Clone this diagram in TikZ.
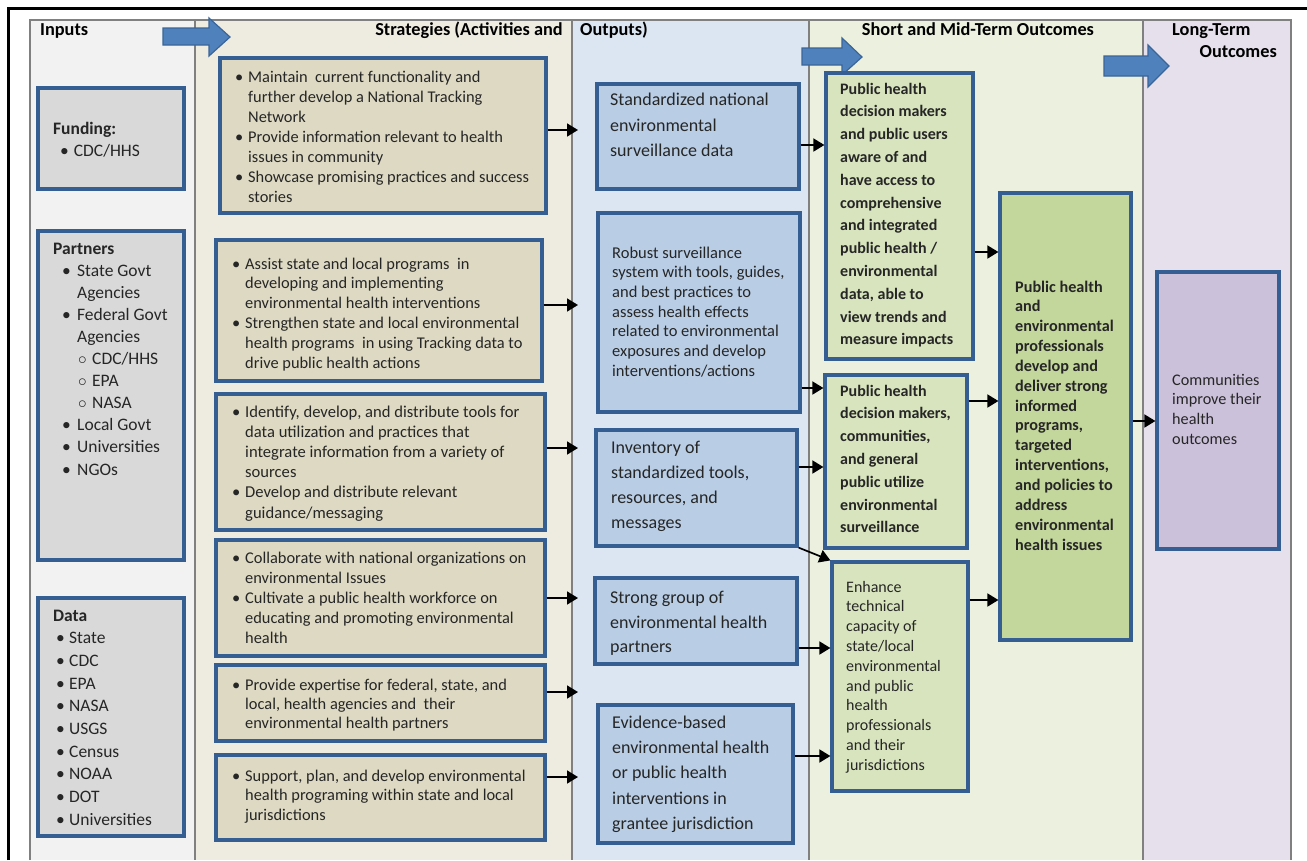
\documentclass[tikz,border=0pt]{standalone}
\usepackage{fontspec}
\setmainfont{Carlito}
\usetikzlibrary{arrows.meta}
\definecolor{colIn}{HTML}{F2F2F2}
\definecolor{colSt}{HTML}{EEECE1}
\definecolor{colOut}{HTML}{DCE6F2}
\definecolor{colSh}{HTML}{EBF1DE}
\definecolor{colLg}{HTML}{E5E0EC}
\definecolor{inF}{HTML}{D9D9D9}
\definecolor{stF}{HTML}{DDD9C3}
\definecolor{outF}{HTML}{B9CDE5}
\definecolor{shF}{HTML}{D7E4BD}
\definecolor{mtF}{HTML}{C3D69B}
\definecolor{lgF}{HTML}{CCC1DA}
\definecolor{bordc}{HTML}{355E92}
\definecolor{barrF}{HTML}{4F81BD}
\definecolor{barrD}{HTML}{3A6598}
\definecolor{colline}{HTML}{808080}
\definecolor{txtc}{HTML}{262626}
\newcommand\mylines[1]{\vtop{\halign{##\hfil\cr#1\crcr}}}
\newcommand\fS[2]{\fontsize{#1}{#2}\selectfont}
\newcommand\mybul{\hbox to 13pt{\textbullet\hfil}}
\newcommand\myind{\hskip13pt}
\newcommand\pbul{\hskip9pt\hbox to 15pt{\textbullet\hfil}}
\newcommand\pind{\hskip24pt}
\newcommand\psub{\hskip25pt\hbox to 14pt{$\circ$\hfil}}
\newcommand\dbul{\hskip3pt\hbox to 13pt{\textbullet\hfil}}
\begin{document}
\begin{tikzpicture}[x=1pt,y=-1pt,
  box/.style={draw=bordc, line width=3.2pt, inner sep=0pt},
  inbox/.style={box, fill=inF},
  stbox/.style={box, fill=stF},
  outbox/.style={box, fill=outF},
  shbox/.style={box, fill=shF},
  mtbox/.style={box, fill=mtF},
  lgbox/.style={box, fill=lgF},
  tx/.style={anchor=base west, inner sep=0pt, text=txtc},
  hd/.style={inner sep=0pt, text=black, font=\bfseries\fS{18.3}{21}},
  arr/.style={-{Triangle[length=11pt,width=13pt]}, line width=1.7pt, black},
  barrow/.style={fill=barrF, draw=barrD, line width=1.2pt},
  colsep/.style={draw=colline, line width=1.2pt}]
\useasboundingbox (0,0) rectangle (1307,860);
\fill[white] (0,0) rectangle (1307,860);
% columns
\fill[colIn] (30,20) rectangle (195,860);
\fill[colSt] (195,20) rectangle (572,860);
\fill[colOut] (572,20) rectangle (809,860);
\fill[colSh] (809,20) rectangle (1143,860);
\fill[colLg] (1143,20) rectangle (1291,860);
\draw[colsep] (30,860) -- (30,20) -- (1291,20) -- (1291,860);
\draw[colsep] (195,20) -- (195,860);
\draw[colsep] (572,20) -- (572,860);
\draw[colsep] (809,20) -- (809,860);
\draw[colsep] (1143,20) -- (1143,860);
\draw[line width=3pt, black] (8,860) -- (8,8) -- (1307,8);
% headers
\node[hd, anchor=base west] (hIn) at (40,35) {Inputs};
\node[hd, anchor=base east] (hSt) at (563,35) {Strategies (Activities and};
\node[hd, anchor=base west] (hOut) at (580,35) {Outputs)};
\node[hd, anchor=base] (hSh) at (978,35) {Short and Mid-Term Outcomes};
\node[hd, anchor=base west] (hLg) at (1172,35) {Long-Term};
\node[hd, anchor=base east] (hLg2) at (1277,57) {Outcomes};
% block arrows
\draw[barrow] (163,28) -- (209,28) -- (209,18) -- (230,37) -- (209,56) -- (209,45) -- (163,45) -- cycle;
\draw[barrow] (802,48) -- (842,48) -- (842,38) -- (862,57) -- (842,75) -- (842,65) -- (802,65) -- cycle;
\draw[barrow] (1104,56) -- (1148,56) -- (1148,45) -- (1169,66) -- (1148,87) -- (1148,76) -- (1104,76) -- cycle;
% input boxes
\node[inbox, minimum width=146pt, minimum height=101pt] (fund) at (111,138.5) {};
\node[inbox, minimum width=146pt, minimum height=329pt] (part) at (111,395.5) {};
\node[inbox, minimum width=146pt, minimum height=238pt] (data) at (111,717) {};
\node[tx] (fundt) at (53,134) {\fS{17.5}{22}\mylines{\textbf{Funding:}\cr
  \hskip7pt\textbullet\hskip5pt CDC/HHS\cr}};
\node[tx] (partt) at (53,254) {\fS{17.5}{22.1}\mylines{\textbf{Partners}\cr
  \pbul State Govt\cr \pind Agencies\cr \pbul Federal Govt\cr \pind Agencies\cr
  \psub CDC/HHS\cr \psub EPA\cr \psub NASA\cr \pbul Local Govt\cr
  \pbul Universities\cr \pbul NGOs\cr}};
\node[tx] (datat) at (53,621) {\fS{17.5}{22.7}\mylines{\textbf{Data}\cr
  \dbul State\cr \dbul CDC\cr \dbul EPA\cr \dbul NASA\cr \dbul USGS\cr
  \dbul Census\cr \dbul NOAA\cr \dbul DOT\cr \dbul Universities\cr}};
% strategy boxes
\node[stbox, minimum width=326pt, minimum height=155pt] (s1) at (383,135.5) {};
\node[stbox, minimum width=326pt, minimum height=141pt] (s2) at (379,310.5) {};
\node[stbox, minimum width=329pt, minimum height=136pt] (s3) at (380.5,462) {};
\node[stbox, minimum width=329pt, minimum height=116pt] (s4) at (380.5,598) {};
\node[stbox, minimum width=329pt, minimum height=76pt] (s5) at (380.5,703) {};
\node[stbox, minimum width=329pt, minimum height=85pt] (s6) at (380.5,797.5) {};
\node[tx] (s1t) at (235,82) {\fS{16.4}{20}\mylines{%
  \mybul Maintain~ current functionality and\cr
  \myind further develop a National Tracking\cr
  \myind Network\cr
  \mybul Provide information relevant to health\cr
  \myind issues in community\cr
  \mybul Showcase promising practices and success\cr
  \myind stories\cr}};
\node[tx] (s2t) at (232,269) {\fS{16.4}{19.8}\mylines{%
  \mybul Assist state and local programs~ in\cr
  \myind developing and implementing\cr
  \myind environmental health interventions\cr
  \mybul Strengthen state and local environmental\cr
  \myind health programs~ in using Tracking data to\cr
  \myind drive public health actions\cr}};
\node[tx] (s3t) at (232,417) {\fS{16.6}{20.2}\mylines{%
  \mybul Identify, develop, and distribute tools for\cr
  \myind data utilization and practices that\cr
  \myind integrate information from a variety of\cr
  \myind sources\cr
  \mybul Develop and distribute relevant\cr
  \myind guidance/messaging\cr}};
\node[tx] (s4t) at (232,563) {\fS{16.4}{20}\mylines{%
  \mybul Collaborate with national organizations on\cr
  \myind environmental Issues\cr
  \mybul Cultivate a public health workforce on\cr
  \myind educating and promoting environmental\cr
  \myind health\cr}};
\node[tx] (s5t) at (232,690) {\fS{16.4}{19}\mylines{%
  \mybul Provide expertise for federal, state, and\cr
  \myind local, health agencies and~ their\cr
  \myind environmental health partners\cr}};
\node[tx] (s6t) at (232,781) {\fS{16.4}{19.5}\mylines{%
  \mybul Support, plan, and develop environmental\cr
  \myind health programing within state and local\cr
  \myind jurisdictions\cr}};
% output boxes
\node[outbox, minimum width=202pt, minimum height=105pt] (o1) at (698,136.5) {};
\node[outbox, minimum width=202pt, minimum height=199pt] (o2) at (699,312.5) {};
\node[outbox, minimum width=201pt, minimum height=116pt] (o3) at (696.5,488) {};
\node[outbox, minimum width=202pt, minimum height=86pt] (o4) at (696,621) {};
\node[outbox, minimum width=195pt, minimum height=138pt] (o5) at (695.5,774) {};
\node[tx] (o1t) at (610,105.5) {\fS{18}{25.5}\mylines{Standardized national\cr
  environmental\cr surveillance data\cr}};
\node[tx] (o2t) at (612,258) {\fS{16.5}{19.7}\mylines{Robust surveillance\cr
  system with tools, guides,\cr and best practices to\cr assess health effects\cr
  related to environmental\cr exposures and develop\cr interventions/actions\cr}};
\node[tx] (o3t) at (611,453.5) {\fS{18}{25}\mylines{Inventory of\cr
  standardized tools,\cr resources, and\cr messages\cr}};
\node[tx] (o4t) at (610,603.5) {\fS{18}{24.5}\mylines{Strong group of\cr
  environmental health\cr partners\cr}};
\node[tx] (o5t) at (612,728.5) {\fS{18}{25.2}\mylines{Evidence-based\cr
  environmental health\cr or public health\cr interventions in\cr
  grantee jurisdiction\cr}};
% outcome boxes
\node[shbox, minimum width=147pt, minimum height=286pt] (st1) at (899.5,216) {};
\node[shbox, minimum width=142pt, minimum height=173pt] (st2) at (896,461.5) {};
\node[shbox, minimum width=136pt, minimum height=229pt] (st3) at (900,676.5) {};
\node[mtbox, minimum width=131pt, minimum height=447pt] (mt) at (1065.5,416.5) {};
\node[lgbox, minimum width=122pt, minimum height=277pt] (lt) at (1218,410.5) {};
\node[tx] (st1t) at (840,94) {\bfseries\fS{16}{22.8}\mylines{Public health\cr
  decision makers\cr and public users\cr aware of and\cr have access to\cr
  comprehensive\cr and integrated\cr public health /\cr environmental\cr
  data, able to\cr view trends and\cr measure impacts\cr}};
\node[tx] (st2t) at (840,396) {\bfseries\fS{16}{22.83}\mylines{Public health\cr
  decision makers,\cr communities,\cr and general\cr public utilize\cr
  environmental\cr surveillance\cr}};
\node[tx] (st3t) at (846,592) {\fS{16}{19.8}\mylines{Enhance\cr technical\cr
  capacity of\cr state/local\cr environmental\cr and public\cr health\cr
  professionals\cr and their\cr jurisdictions\cr}};
\node[tx] (mtt) at (1015,292) {\bfseries\fS{16.2}{19.85}\mylines{Public health\cr
  and\cr environmental\cr professionals\cr develop and\cr deliver strong\cr
  informed\cr programs,\cr targeted\cr interventions,\cr and policies to\cr
  address\cr environmental\cr health issues\cr}};
\node[tx] (ltt) at (1172,385) {\fS{16.2}{19.7}\mylines{Communities\cr
  improve their\cr health\cr outcomes\cr}};
% connector end coordinates
\coordinate (e1) at (578,130);
\coordinate (e2) at (578,305);
\coordinate (e3) at (578,448);
\coordinate (e4) at (578,598);
\coordinate (e5) at (578,692);
\coordinate (e6) at (578,777);
\coordinate (y1) at (0,145);
\coordinate (y2) at (0,388);
\coordinate (y3) at (0,467);
\coordinate (y4) at (0,648);
\coordinate (y5) at (0,756);
\coordinate (y6) at (0,252);
\coordinate (y7) at (0,401);
\coordinate (y8) at (0,600);
\coordinate (y9) at (0,421);
% connectors
\draw[arr] (s1.east |- e1) -- (e1);
\draw[arr] (s2.east |- e2) -- (e2);
\draw[arr] (s3.east |- e3) -- (e3);
\draw[arr] (s4.east |- e4) -- (e4);
\draw[arr] (s5.east |- e5) -- (e5);
\draw[arr] (s6.east |- e6) -- (e6);
\draw[arr] (o1.east |- y1) -- (st1.west |- y1);
\draw[arr] (o2.east |- y2) -- (st2.west |- y2);
\draw[arr] (o3.east |- y3) -- (st2.west |- y3);
\draw[arr] (o3.south east) -- (st3.north west);
\draw[arr] (o4.east |- y4) -- (st3.west |- y4);
\draw[arr] (o5.east |- y5) -- (st3.west |- y5);
\draw[arr] (st1.east |- y6) -- (mt.west |- y6);
\draw[arr] (st2.east |- y7) -- (mt.west |- y7);
\draw[arr] (st3.east |- y8) -- (mt.west |- y8);
\draw[arr] (mt.east |- y9) -- (lt.west |- y9);
\end{tikzpicture}
\end{document}
